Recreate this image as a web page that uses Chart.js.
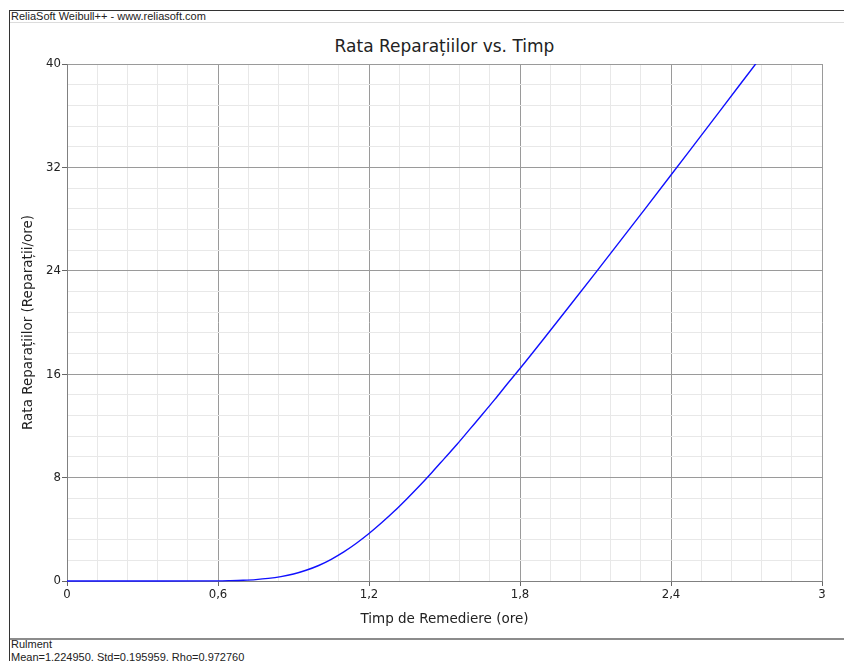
<!DOCTYPE html>
<html>
<head>
<meta charset="utf-8">
<title>Rata Reparațiilor vs. Timp</title>
<script src="https://cdn.jsdelivr.net/npm/chart.js@4/dist/chart.umd.min.js"></script>
<style>
  html, body { margin: 0; padding: 0; background: #ffffff; }
  #wrap { position: relative; width: 844px; height: 661px; overflow: hidden; background: #ffffff; }
  #plot { position: absolute; left: 0; top: 0; }
  .rule { position: absolute; }
  .txt { position: absolute; font-family: "Liberation Sans", Arial, sans-serif; font-size: 11px; line-height: 13px; color: #222; white-space: nowrap; }
  #title { position: absolute; left: 67px; width: 755px; top: 36px; text-align: center;
           font-family: "DejaVu Sans", Verdana, sans-serif; font-size: 17px; line-height: 20px; color: #222; white-space: nowrap; }
</style>
</head>
<body>
<div id="wrap">
  <div class="rule" style="left:9px; top:10px; width:835px; height:1px; background:#333;"></div>
  <div class="rule" style="left:9px; top:10px; width:1px; height:651px; background:#333;"></div>
  <div class="rule" style="left:10px; top:22px; width:834px; height:1px; background:#dcdcdc;"></div>
  <div class="rule" style="left:10px; top:638px; width:834px; height:2px; background:#8c8c8c;"></div>
  <div class="txt" style="left:11px; top:10px;">ReliaSoft Weibull++ - www.reliasoft.com</div>
  <div class="txt" style="left:11px; top:638px;">Rulment</div>
  <div class="txt" style="left:11px; top:651px;">Mean=1.224950, Std=0.195959, Rho=0.972760</div>
  <div id="title"></div>
  <canvas id="plot" width="844" height="661"></canvas>
</div>
<script>
// Repair time (hours) and the repair rate read at each time (repairs/hour)
const repairTime = [0, 0.3, 0.6, 0.65, 0.7, 0.75, 0.8, 0.85, 0.9, 0.95, 1.0, 1.05, 1.1, 1.15, 1.2,
                    1.25, 1.3, 1.35, 1.4, 1.45, 1.5, 1.55, 1.6, 1.65, 1.7, 1.75, 1.8, 1.9, 2.0,
                    2.1, 2.2, 2.3, 2.4, 2.5, 2.6, 2.7, 2.75];
const repairRate = [0, 0, 0.01, 0.03, 0.06, 0.11, 0.20, 0.34, 0.54, 0.83, 1.20, 1.68, 2.25, 2.92, 3.67,
                    4.50, 5.39, 6.35, 7.35, 8.40, 9.49, 10.58, 11.73, 12.88, 14.05, 15.26, 16.44, 18.88, 21.35,
                    23.84, 26.35, 28.87, 31.41, 33.96, 36.51, 39.07, 40.35];

// Axis ticks
const xMajorTicks = [0, 0.6, 1.2, 1.8, 2.4, 3];
const xTickLabels = ['0', '0,6', '1,2', '1,8', '2,4', '3'];
const yMajorTicks = [0, 8, 16, 24, 32, 40];
const yTickLabels = ['0', '8', '16', '24', '32', '40'];
const minorDivisions = 5;

const chartTitle = 'Rata Reparațiilor vs. Timp';
const xAxisTitle = 'Timp de Remediere (ore)';
const yAxisTitle = 'Rata Reparațiilor (Reparații/ore)';

document.getElementById('title').textContent = chartTitle;

const MAJOR_GRID = '#9a9a9a';
const MINOR_GRID = '#e8e8e8';
const AXIS_LINE = '#808080';
const FONT = '"DejaVu Sans", Verdana, sans-serif';
const TICK_FONT = '"DejaVu Sans Condensed", "DejaVu Sans", Verdana, sans-serif';

// major ticks plus evenly spaced minor ticks between them
function withMinor(majors) {
  const out = [];
  for (let i = 0; i < majors.length; i++) {
    out.push(majors[i]);
    if (i < majors.length - 1) {
      for (let k = 1; k < minorDivisions; k++) {
        out.push(majors[i] + (majors[i + 1] - majors[i]) * k / minorDivisions);
      }
    }
  }
  return out;
}
function majorIndex(v, majors) {
  return majors.findIndex(m => Math.abs(m - v) < 1e-6);
}

const points = repairTime.map((t, i) => ({ x: t, y: repairRate[i] }));

function gridFor(majors) {
  return {
    drawOnChartArea: true,
    drawTicks: true,
    tickLength: 5,
    lineWidth: 1,
    color: c => (majorIndex(c.tick.value, majors) >= 0 ? MAJOR_GRID : MINOR_GRID),
    tickColor: c => (majorIndex(c.tick.value, majors) >= 0 ? '#666666' : 'rgba(0,0,0,0)')
  };
}

new Chart(document.getElementById('plot'), {
  type: 'line',
  data: {
    datasets: [{
      data: points,
      borderColor: '#1010ff',
      borderWidth: 1.4,
      pointRadius: 0,
      fill: false,
      cubicInterpolationMode: 'monotone',
      clip: { left: 2, right: 0, top: 0, bottom: 2 }
    }]
  },
  options: {
    responsive: false,
    animation: false,
    events: [],
    layout: { padding: { left: 10, right: 22, top: 64, bottom: 21 } },
    plugins: {
      legend: { display: false },
      tooltip: { enabled: false },
      title: { display: false }
    },
    scales: {
      x: {
        type: 'linear',
        min: xMajorTicks[0],
        max: xMajorTicks[xMajorTicks.length - 1],
        afterBuildTicks: s => { s.ticks = withMinor(xMajorTicks).map(v => ({ value: v })); },
        afterFit: s => { s.height = 59; },
        ticks: {
          autoSkip: false,
          maxRotation: 0,
          padding: 1,
          color: '#222222',
          font: { family: TICK_FONT, size: 13 },
          callback: v => { const i = majorIndex(v, xMajorTicks); return i >= 0 ? xTickLabels[i] : ''; }
        },
        grid: gridFor(xMajorTicks),
        border: { display: true, color: AXIS_LINE, width: 1 },
        title: {
          display: true,
          text: xAxisTitle,
          color: '#222222',
          font: { family: FONT, size: 13.5, lineHeight: 1.2 },
          padding: { top: 0, bottom: 12 }
        }
      },
      y: {
        type: 'linear',
        min: yMajorTicks[0],
        max: yMajorTicks[yMajorTicks.length - 1],
        afterBuildTicks: s => { s.ticks = withMinor(yMajorTicks).map(v => ({ value: v })); },
        afterFit: s => { s.width = 57; },
        ticks: {
          autoSkip: false,
          padding: 1,
          color: '#222222',
          font: { family: TICK_FONT, size: 13 },
          callback: v => { const i = majorIndex(v, yMajorTicks); return i >= 0 ? yTickLabels[i] : ''; }
        },
        grid: gridFor(yMajorTicks),
        border: { display: true, color: AXIS_LINE, width: 1 },
        title: {
          display: true,
          text: yAxisTitle,
          color: '#222222',
          font: { family: FONT, size: 13.5, lineHeight: 1.2 },
          padding: { top: 10, bottom: 0 }
        }
      }
    }
  }
});
</script>
</body>
</html>
